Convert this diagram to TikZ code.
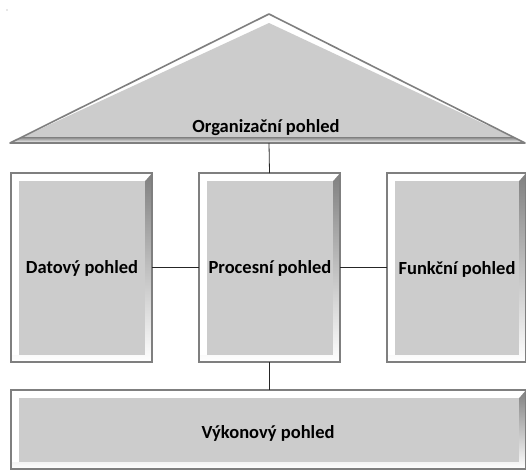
\documentclass[tikz,border=0pt]{standalone}
\usepackage{fontspec}
\setmainfont{Carlito}
\begin{document}
\begin{tikzpicture}[x=1pt,y=-1pt,
  lbl/.style={font=\bfseries\fontsize{18.5}{22}\selectfont, text=black, inner sep=0pt},
  link/.style={draw=black!85, line width=0.8pt}]
\useasboundingbox (0,0) rectangle (526,469);
\definecolor{rim}{HTML}{7F7F7F}
\definecolor{face}{HTML}{CCCCCC}
\definecolor{shade}{HTML}{9A9A9A}
% bevelled box: #1 left, #2 top, #3 right, #4 bottom, #5 name
\newcommand{\bevelbox}[5]{%
  \fill[shade] (#1,#2) rectangle (#3,#4);
  \fill[white] (#1,{#4-7}) -- (#1,#2) -- (#3,#2) -- ({#3-7},{#2+8}) -- ({#1+8},{#2+8}) -- ({#1+8},{#4-7}) -- cycle;
  \fill[face] ({#1+8},{#2+8}) rectangle ({#3-7},{#4-7});
  \draw[rim, line width=1.6pt] (#1,#2) rectangle (#3,#4);
  \coordinate (#5-n) at ({(#1+#3)/2},#2);
  \coordinate (#5-s) at ({(#1+#3)/2},#4);
  \coordinate (#5-w) at (#1,{(#2+#4)/2});
  \coordinate (#5-e) at (#3,{(#2+#4)/2});
}
% roof
\fill[white] (10,143) -- (269,14) -- (525,143) -- cycle;
\fill[face] (10,143) -- (269,23) -- (525,143) -- cycle;
\fill[shade] (22,137) -- (513,137) -- (525,143) -- (10,143) -- cycle;
\draw[rim, line width=1.6pt, line join=round] (10,143) -- (269,14) -- (525,143) -- cycle;
\coordinate (roof-s) at (269,143);
\node[lbl] (org) at (266,128) {Organizační pohled};
% three columns and the base
\bevelbox{11}{173}{152}{362}{dat}
\bevelbox{199}{173}{340}{362}{proc}
\bevelbox{387}{173}{526}{362}{fun}
\bevelbox{11}{390}{526}{469}{vyk}
\node[lbl] (datlbl) at (82,268) {Datový pohled};
\node[lbl] (proclbl) at (270,268) {Procesní pohled};
\node[lbl] (funlbl) at (457,269) {Funkční pohled};
\node[lbl] (vyklbl) at (268,433) {Výkonový pohled};
% connectors
\draw[link] (roof-s) -- (proc-n);
\draw[link] (dat-e |- 0,267) -- (proc-w |- 0,267);
\draw[link] (proc-e |- 0,267) -- (fun-w |- 0,267);
\draw[link] (proc-s) -- (proc-s |- vyk-n);
\fill[black!40] (7,10) circle (0.7);
\end{tikzpicture}
\end{document}
